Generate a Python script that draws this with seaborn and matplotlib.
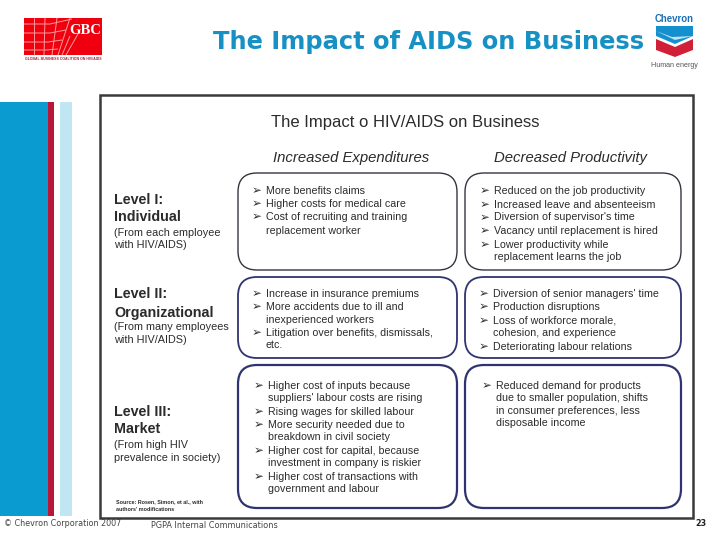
import matplotlib
matplotlib.use("Agg")
import matplotlib.pyplot as plt
from matplotlib.patches import Rectangle, FancyBboxPatch, Polygon
import seaborn as sns

TITLE = "The Impact of AIDS on Business"
INNER_TITLE = "The Impact o HIV/AIDS on Business"
COL_HEADS = ["Increased Expenditures", "Decreased Productivity"]
LEVEL_HEADS = [["Level I:", "Individual"], ["Level II:", "Organizational"], ["Level III:", "Market"]]
LEVEL_SUBS = [["(From each employee", "with HIV/AIDS)"],
              ["(From many employees", "with HIV/AIDS)"],
              ["(From high HIV", "prevalence in society)"]]
COSTS = [
    [("b", "More benefits claims"), ("b", "Higher costs for medical care"),
     ("b", "Cost of recruiting and training"), ("c", "replacement worker")],
    [("b", "Increase in insurance premiums"), ("b", "More accidents due to ill and"),
     ("c", "inexperienced workers"), ("b", "Litigation over benefits, dismissals,"), ("c", "etc.")],
    [("b", "Higher cost of inputs because"), ("c", "suppliers' labour costs are rising"),
     ("b", "Rising wages for skilled labour"), ("b", "More security needed due to"),
     ("c", "breakdown in civil society"), ("b", "Higher cost for capital, because"),
     ("c", "investment in company is riskier"), ("b", "Higher cost of transactions with"),
     ("c", "government and labour")],
]
PRODUCTIVITY = [
    [("b", "Reduced on the job productivity"), ("b", "Increased leave and absenteeism"),
     ("b", "Diversion of supervisor's time"), ("b", "Vacancy until replacement is hired"),
     ("b", "Lower productivity while"), ("c", "replacement learns the job")],
    [("b", "Diversion of senior managers' time"), ("b", "Production disruptions"),
     ("b", "Loss of workforce morale,"), ("c", "cohesion, and experience"),
     ("b", "Deteriorating labour relations")],
    [("b", "Reduced demand for products"), ("c", "due to smaller population, shifts"),
     ("c", "in consumer preferences, less"), ("c", "disposable income")],
]
SOURCE = ["Source: Rosen, Simon, et al., with", "authors' modifications"]
FOOT_LEFT = "© Chevron Corporation 2007"
FOOT_MID = "PGPA Internal Communications"
PAGE = "23"

BLUE = "#0a9bd1"
TITLE_BLUE = "#1791c4"
RED = "#b8173a"
PALE = "#bfe6f2"
NAVY = "#2f3470"
INK = "#2b2b2b"

sns.set_theme(style="white")
plt.rcParams["font.family"] = ["Liberation Sans", "DejaVu Sans"]

fig = plt.figure(figsize=(7.2, 5.4), dpi=100, facecolor="white")
ax = fig.add_axes([0, 0, 1, 1])
ax.set_xlim(0, 720)
ax.set_ylim(540, 0)
ax.axis("off")
sns.despine(ax=ax, left=True, bottom=True)


def rect(x0, y0, x1, y1, color, z=1):
    ax.add_patch(Rectangle((x0, y0), x1 - x0, y1 - y0, facecolor=color, edgecolor="none", zorder=z))


def line(xs, ys, color="#ff9a9a", lw=0.7, z=3):
    ax.plot(xs, ys, color=color, lw=lw, zorder=z, solid_capstyle="butt")


# side bands
rect(0, 102, 48, 516, BLUE)
rect(48, 102, 54, 516, RED)
rect(60, 102, 72, 516, PALE)

# GBC logo
rect(24, 18, 102, 55, "#f0000f")
line([24, 50, 72], [24, 24, 19])
line([24, 50, 66], [33, 33, 30])
line([24, 48, 62], [42, 42, 40])
line([24, 46, 58], [50, 50, 49])
line([34, 34], [18, 55])
line([45, 44], [18, 55])
line([57, 52], [18, 55])
line([70, 58], [18, 55])
line([66, 78], [55, 34])
line([62, 70], [55, 36])
ax.text(85, 30, "GBC", color="white", fontsize=10.5, family="Liberation Serif",
        weight="bold", ha="center", va="center", zorder=4)
ax.text(63, 59.5, "GLOBAL BUSINESS COALITION ON HIV/AIDS", color="#a02030", fontsize=2.55,
        weight="bold", ha="center", va="center")

# Chevron logo
ax.text(674.5, 19.5, "Chevron", color="#1a6fb5", fontsize=6.9, weight="bold", ha="center", va="center")
ax.add_patch(Polygon([(656, 26), (693, 26), (693, 36), (675, 44), (656, 36)], facecolor="#1590cf", edgecolor="none"))
ax.add_patch(Polygon([(656, 31), (672, 37), (693, 36), (675, 40)], facecolor="#bfe3f2", edgecolor="none"))
ax.add_patch(Polygon([(656, 39), (675, 47), (693, 39), (693, 50), (675, 57), (656, 50)], facecolor="#d01f37", edgecolor="none"))
ax.text(674.5, 65.5, "Human energy", color="#555555", fontsize=5.1, ha="center", va="center")

# title
ax.text(429, 42, TITLE, color=TITLE_BLUE, fontsize=17.4, family="DejaVu Sans",
        weight="bold", ha="center", va="center")

# framed figure
ax.add_patch(Rectangle((100, 94.5), 593, 423, facecolor="white", edgecolor="#3a3a3a", lw=1.8, zorder=1))
ax.text(405, 122, INNER_TITLE, color=INK, fontsize=12, ha="center", va="center")
ax.text(351, 158, COL_HEADS[0], color=INK, fontsize=10.7, style="italic", ha="center", va="center")
ax.text(571, 158, COL_HEADS[1], color=INK, fontsize=10.7, style="italic", ha="center", va="center")

# rounded boxes
BOX_ROWS = [(173, 270), (277, 358), (365, 508)]
BOX_COLS = [(238, 457), (465, 681)]
BOX_COLORS = ["#33363f", NAVY, NAVY]
BOX_LW = [1.0, 1.3, 1.6]
R = 19
for (y0, y1), c, lw in zip(BOX_ROWS, BOX_COLORS, BOX_LW):
    for (x0, x1) in BOX_COLS:
        ax.add_patch(FancyBboxPatch((x0 + R, y0 + R), x1 - x0 - 2 * R, y1 - y0 - 2 * R,
                                    boxstyle=f"round,pad={R},rounding_size={R}",
                                    facecolor="white", edgecolor=c, lw=lw, zorder=2))

# bullets
ARROW = "➢"
BODY = 7.7


def bullets(items, ys, xa, xt):
    for (kind, s), y in zip(items, ys):
        if kind == "b":
            ax.text(xa, y, ARROW, color=INK, fontsize=8.5, family="DejaVu Sans", ha="center", va="center", zorder=4)
        ax.text(xt, y, s, color=INK, fontsize=BODY, ha="left", va="center", zorder=4)


bullets(COSTS[0], [190.5, 204, 217, 230.5], 257, 266)
bullets(COSTS[1], [294, 307, 320, 333, 345.5], 257, 266)
bullets(COSTS[2], [386, 398, 412, 424.5, 437.5, 451, 463.5, 477, 489.5], 259, 268)
bullets(PRODUCTIVITY[0], [191, 204.5, 217.5, 231, 244.5, 257.5], 485, 494)
bullets(PRODUCTIVITY[1], [294, 307, 320.5, 333, 346.5], 484, 493)
bullets(PRODUCTIVITY[2], [386, 398, 411, 423], 487, 496)

# level labels
LEVEL_Y = [(200, 217, 232.5, 245), (294, 312.5, 327, 340), (412, 429, 445, 458)]
for heads, subs, ys in zip(LEVEL_HEADS, LEVEL_SUBS, LEVEL_Y):
    ax.text(114, ys[0], heads[0], color=INK, fontsize=10.3, weight="bold", va="center", zorder=4)
    ax.text(114, ys[1], heads[1], color=INK, fontsize=10.3, weight="bold", va="center", zorder=4)
    ax.text(114, ys[2], subs[0], color=INK, fontsize=7.8, va="center", zorder=4)
    ax.text(114, ys[3], subs[1], color=INK, fontsize=7.8, va="center", zorder=4)

ax.text(116, 501.5, SOURCE[0], color=INK, fontsize=3.9, weight="bold", va="center", zorder=4)
ax.text(116, 509.5, SOURCE[1], color=INK, fontsize=3.9, weight="bold", va="center", zorder=4)

# footer
ax.text(4, 523, FOOT_LEFT, color="#444444", fontsize=5.8, family="DejaVu Sans", va="center")
ax.text(151, 525, FOOT_MID, color="#444444", fontsize=5.9, family="DejaVu Sans", va="center")
ax.text(701, 523, PAGE, color="#222222", fontsize=5.8, family="DejaVu Sans", weight="bold", ha="center", va="center")

fig.savefig("out.png", dpi=100)
